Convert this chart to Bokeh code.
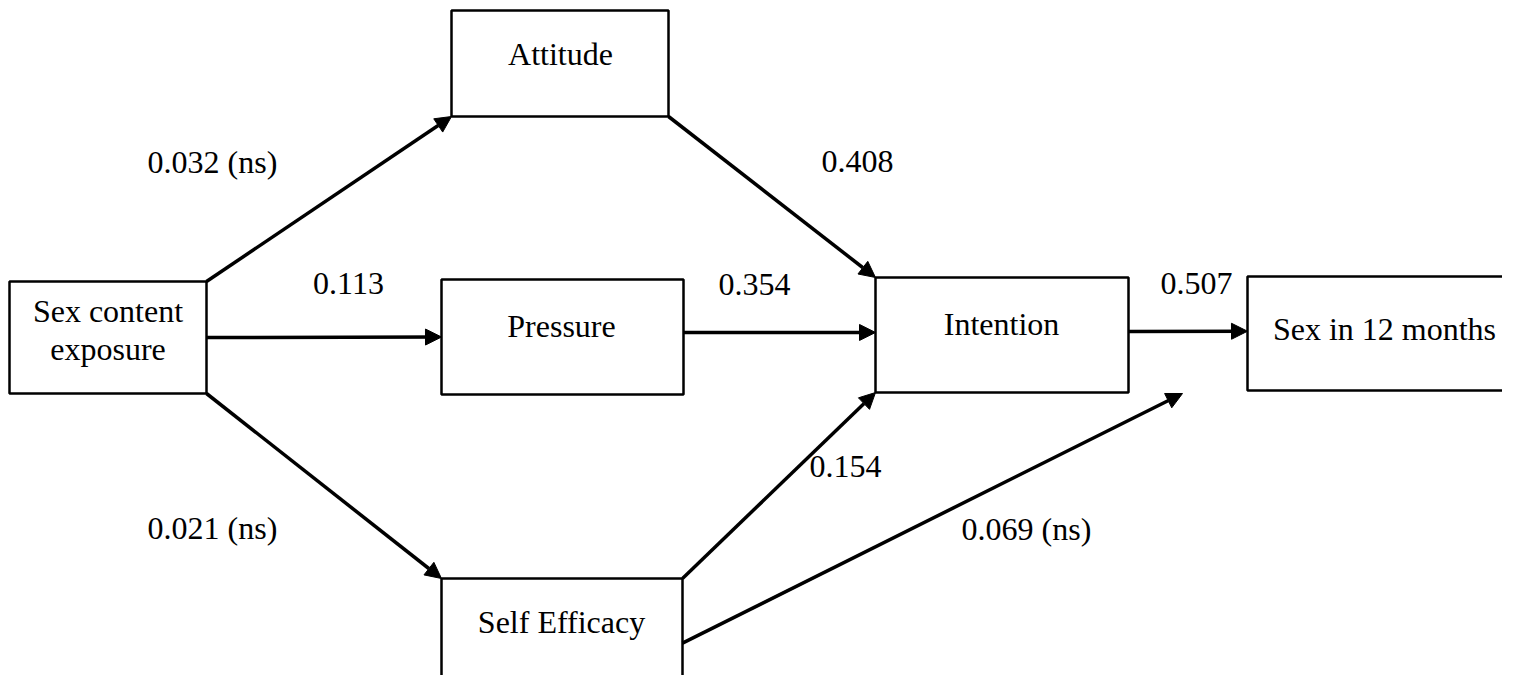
from bokeh.plotting import figure
from bokeh.models import Range1d, ColumnDataSource, Arrow, NormalHead
from bokeh.core.properties import value
from bokeh.embed import file_html
from bokeh.resources import INLINE

# ---------------- data ----------------
node_ids = ["exposure", "attitude", "pressure", "intention", "sex12", "efficacy"]
node_labels = ["Sex content\nexposure", "Attitude", "Pressure", "Intention",
               "Sex in 12 months", "Self Efficacy"]

edge_from = ["exposure", "exposure", "exposure", "attitude", "pressure",
             "efficacy", "efficacy", "intention"]
edge_to = ["attitude", "pressure", "efficacy", "intention", "intention",
           "intention", "sex12", "sex12"]
coefficients = [0.032, 0.113, 0.021, 0.408, 0.354, 0.154, 0.069, 0.507]
not_significant = [True, False, True, False, False, False, True, False]

# ---------------- layout (picture pixels) ----------------
# box: left, right, top, bottom ; text anchor (center x, first text line y)
box_layout = {
    "exposure":  dict(l=9,    r=206,  t=281, b=393, tx=107.5, ty=310),
    "attitude":  dict(l=451,  r=668,  t=10,  b=116, tx=560,   ty=53),
    "pressure":  dict(l=441,  r=683,  t=279, b=394, tx=561,   ty=325),
    "intention": dict(l=875,  r=1128, t=277, b=392, tx=1001,  ty=323),
    "sex12":     dict(l=1247, r=1530, t=276, b=390, tx=1384,  ty=328),
    "efficacy":  dict(l=441,  r=682,  t=578, b=700, tx=561,   ty=621),
}
# edge anchors: (fx, fy, dx, dy) relative to source / target box
edge_layout = [
    ((1, 0, 0, 0),    (0, 1, 0, 0)),
    ((1, 0.5, 0, 0),  (0, 0.5, 0, 0)),
    ((1, 1, 0, 0),    (0, 0, 0, 0)),
    ((1, 1, 0, 0),    (0, 0, 0, 0)),
    ((1, 0.46, 0, 0), (0, 0.478, 0, 0)),
    ((1, 0, 0, 0),    (0, 1, 0, 0)),
    ((1, 0.53, 0, 0), (0, 1, -65, 3)),
    ((1, 0.47, 0, 0), (0, 0.48, 0, 0)),
]
label_layout = [(212, 161), (348, 283), (212, 527), (857, 161),
                (754, 284), (845, 466), (1026, 528), (1196, 283)]

FONT = value("Liberation Serif")
FSIZE = "32px"
LINE_H = 38

# ---------------- figure ----------------
p = figure(width=1502, height=675, x_range=Range1d(0, 1502), y_range=Range1d(675, 0),
           output_backend="svg", toolbar_location=None, min_border=0,
           x_axis_location=None, y_axis_location=None)
p.grid.visible = False
p.outline_line_color = None
p.background_fill_color = "white"
p.border_fill_color = "white"


def anchor(node, a):
    b = box_layout[node]
    fx, fy, dx, dy = a
    return b["l"] + fx * (b["r"] - b["l"]) + dx, b["t"] + fy * (b["b"] - b["t"]) + dy


# edges
xs0, ys0, xs1, ys1 = [], [], [], []
for f, t, (a0, a1) in zip(edge_from, edge_to, edge_layout):
    x0, y0 = anchor(f, a0)
    x1, y1 = anchor(t, a1)
    xs0.append(x0); ys0.append(y0); xs1.append(x1); ys1.append(y1)

esrc = ColumnDataSource(dict(x0=xs0, y0=ys0, x1=xs1, y1=ys1))
p.add_layout(Arrow(end=NormalHead(size=16, fill_color="black", line_color="black", line_width=1),
                   x_start="x0", y_start="y0", x_end="x1", y_end="y1",
                   line_width=3.5, line_color="black", source=esrc))

# boxes
p.quad(left=[box_layout[n]["l"] for n in node_ids],
       right=[box_layout[n]["r"] for n in node_ids],
       top=[box_layout[n]["t"] for n in node_ids],
       bottom=[box_layout[n]["b"] for n in node_ids],
       fill_color="white", line_color="black", line_width=2.5)

# node texts
tx, ty, tt = [], [], []
for n, lab in zip(node_ids, node_labels):
    for i, line in enumerate(lab.split("\n")):
        tx.append(box_layout[n]["tx"])
        ty.append(box_layout[n]["ty"] + i * LINE_H)
        tt.append(line)
p.text(x=tx, y=ty, text=tt, text_font=FONT, text_font_size=FSIZE,
       text_align="center", text_baseline="alphabetic", text_color="black")

# coefficient labels
ctext = [f"{c:.3f}" + (" (ns)" if ns else "") for c, ns in zip(coefficients, not_significant)]
p.text(x=[l[0] for l in label_layout], y=[l[1] for l in label_layout], text=ctext,
       text_font=FONT, text_font_size=FSIZE, text_align="center",
       text_baseline="alphabetic", text_color="black")

open("out.html", "w").write(file_html(p, INLINE))
